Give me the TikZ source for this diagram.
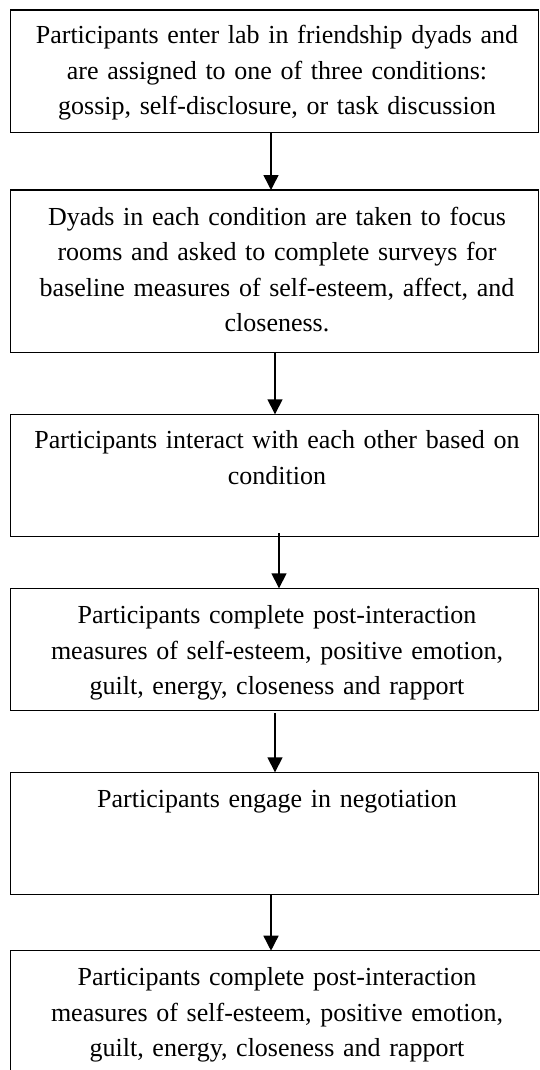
\documentclass[tikz,border=0pt]{standalone}
\usepackage{fontspec}
\setmainfont{Liberation Serif}[WordSpace=0.7]
\usetikzlibrary{arrows.meta,calc}
\newcommand{\boxfont}{\fontsize{26}{35.5}\selectfont}
\begin{document}
\begin{tikzpicture}[x=1pt,y=-1pt,
  stepbox/.style={draw=black,line width=1.5pt,anchor=north west,minimum width=528pt,inner sep=0pt,outer sep=0pt},
  txt/.style={anchor=base,text width=515pt,align=center,inner sep=0pt,font=\boxfont},
  arr/.style={line width=1.5pt,-{Triangle[length=15pt,width=15pt]}}]
\useasboundingbox[fill=white] (0,0) rectangle (539,1070);
\node[stepbox,minimum height=122.7pt] (b1) at (10.5,10) {};
\node[stepbox,minimum height=162.3pt] (b2) at (10.5,190) {};
\node[stepbox,minimum height=122pt] (b3) at (10.5,414.3) {};
\node[stepbox,minimum height=122pt] (b4) at (10.5,588.3) {};
\node[stepbox,minimum height=122pt] (b5) at (10.5,772.3) {};
\node[stepbox,minimum height=150pt,minimum width=540pt] (b6) at (10.5,950.7) {};
\node[txt] (t1) at (277,44) {Participants enter lab in friendship dyads and\\are assigned to one of three conditions:\\gossip, self-disclosure, or task discussion};
\node[txt] (t2) at (277,225) {Dyads in each condition are taken to focus\\rooms and asked to complete surveys for\\baseline measures of self-esteem, affect, and\\closeness.};
\node[txt] (t3) at (277,448.5) {Participants interact with each other based on\\condition};
\node[txt] (t4) at (277,623.5) {Participants complete post-interaction\\measures of self-esteem, positive emotion,\\guilt, energy, closeness and rapport};
\node[txt] (t5) at (277,807) {Participants engage in negotiation};
\node[txt] (t6) at (277,985.5) {Participants complete post-interaction\\measures of self-esteem, positive emotion,\\guilt, energy, closeness and rapport};
\draw[arr] ($(b1.south west)+(260.5,0)$) -- ($(b2.north west)+(260.5,0)$);
\draw[arr] ($(b2.south west)+(264.5,0)$) -- ($(b3.north west)+(264.5,0)$);
\draw[arr] ($(b3.south west)+(268.5,-3)$) -- ($(b4.north west)+(268.5,0)$);
\draw[arr] ($(b4.south west)+(264.5,3)$) -- ($(b5.north west)+(264.5,0)$);
\draw[arr] ($(b5.south west)+(260.5,0)$) -- ($(b6.north west)+(260.5,0)$);
\end{tikzpicture}
\end{document}
